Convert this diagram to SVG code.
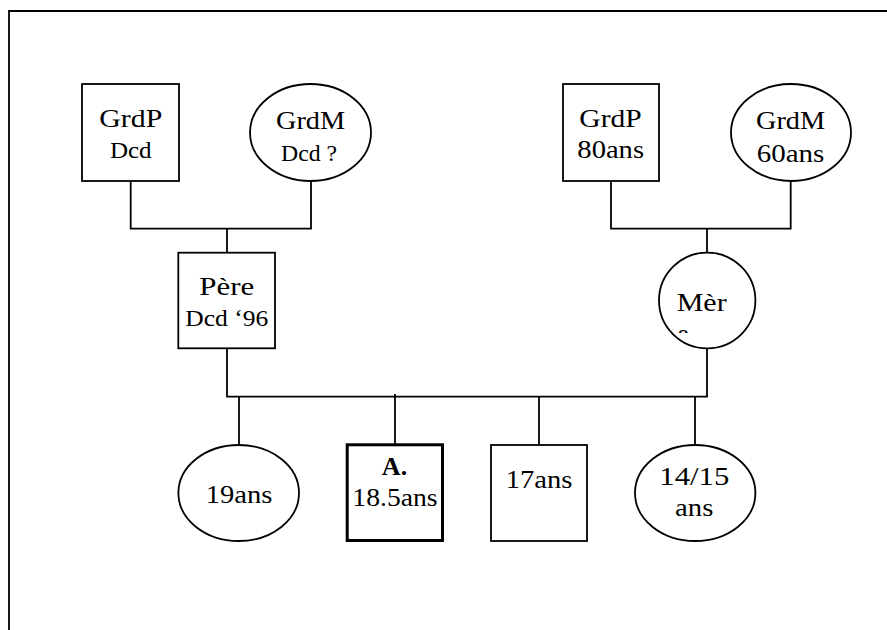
<svg xmlns="http://www.w3.org/2000/svg" width="887" height="630" viewBox="0 0 887 630">
<style>
.shape{fill:#fff;stroke:#000;stroke-width:1.8}
.thick{fill:#fff;stroke:#000;stroke-width:3}
.conn{fill:none;stroke:#000;stroke-width:1.8}
.frame{fill:none;stroke:#000;stroke-width:1.8}
text{font-family:"Liberation Serif","Times New Roman",serif;fill:#000;text-anchor:middle}
.m{font-size:26px}
.s{font-size:23px}
.b{font-weight:bold}
</style>
<defs>
<clipPath id="mereClip"><rect x="659" y="253" width="97" height="80"/></clipPath>
</defs>
<rect width="887" height="630" fill="#fff"/>
<g id="frame">
<path class="frame" d="M9 630 V11 H887"/>
</g>
<g id="connectors">
<polyline class="conn" points="130.7,181 130.7,228.7 311,228.7 311,181"/>
<line class="conn" x1="227" y1="228.7" x2="227" y2="253"/>
<polyline class="conn" points="611,181 611,228.7 790.7,228.7 790.7,181"/>
<line class="conn" x1="707" y1="228.7" x2="707" y2="253"/>
<polyline class="conn" points="227,349 227,396.7 707,396.7 707,348.3"/>
<line class="conn" x1="239" y1="396.7" x2="239" y2="445"/>
<line class="conn" x1="395" y1="394" x2="395" y2="444"/>
<line class="conn" x1="539" y1="396.7" x2="539" y2="445"/>
<line class="conn" x1="695" y1="396.7" x2="695" y2="445"/>
</g>
<g id="grdp-paternel">
<rect class="shape" x="82" y="84" width="97" height="97"/>
<text class="m" x="130.8" y="127.3" textLength="63" lengthAdjust="spacingAndGlyphs">GrdP</text>
<text class="s" x="130.8" y="157.7" textLength="41.7" lengthAdjust="spacingAndGlyphs">Dcd</text>
</g>
<g id="grdm-paternelle">
<ellipse class="shape" cx="310.5" cy="132.5" rx="60.5" ry="48.5"/>
<text class="m" x="310.5" y="129" textLength="69" lengthAdjust="spacingAndGlyphs">GrdM</text>
<text class="s" x="309" y="160.7" textLength="56" lengthAdjust="spacingAndGlyphs">Dcd ?</text>
</g>
<g id="grdp-maternel">
<rect class="shape" x="563" y="84" width="96" height="97"/>
<text class="m" x="610.5" y="127.3" textLength="62.3" lengthAdjust="spacingAndGlyphs">GrdP</text>
<text class="m" x="610.7" y="158.3" textLength="66.7" lengthAdjust="spacingAndGlyphs">80ans</text>
</g>
<g id="grdm-maternelle">
<ellipse class="shape" cx="791" cy="132.5" rx="60" ry="48.5"/>
<text class="m" x="790.5" y="129" textLength="69" lengthAdjust="spacingAndGlyphs">GrdM</text>
<text class="m" x="790.5" y="161.7" textLength="67.7" lengthAdjust="spacingAndGlyphs">60ans</text>
</g>
<g id="pere">
<rect class="shape" x="178.3" y="252.7" width="96.7" height="95.6"/>
<text class="m" x="226.8" y="295" textLength="55" lengthAdjust="spacingAndGlyphs">Père</text>
<text class="s" x="226.7" y="326" textLength="83" lengthAdjust="spacingAndGlyphs">Dcd ‘96</text>
</g>
<g id="mere">
<ellipse class="shape" cx="707.2" cy="300.5" rx="48.2" ry="47.8"/>
<text class="m" x="701.7" y="310.7" textLength="50" lengthAdjust="spacingAndGlyphs">Mèr</text>
<text class="m" x="683" y="341.7" clip-path="url(#mereClip)">e</text>
</g>
<g id="soeur-19">
<ellipse class="shape" cx="238.7" cy="493" rx="60.3" ry="48"/>
<text class="m" x="239" y="503.3" textLength="66.7" lengthAdjust="spacingAndGlyphs">19ans</text>
</g>
<g id="a-18">
<rect class="thick" x="347.2" y="444.8" width="95.3" height="95.7"/>
<text class="m b" x="394.5" y="475">A.</text>
<text class="m" x="395" y="506" textLength="85.3" lengthAdjust="spacingAndGlyphs">18.5ans</text>
</g>
<g id="frere-17">
<rect class="shape" x="491" y="445" width="96" height="96"/>
<text class="m" x="539" y="488.3" textLength="66.7" lengthAdjust="spacingAndGlyphs">17ans</text>
</g>
<g id="soeur-14">
<ellipse class="shape" cx="695.2" cy="493" rx="60.2" ry="48"/>
<text class="m" x="694.3" y="485" textLength="70" lengthAdjust="spacingAndGlyphs">14/15</text>
<text class="m" x="694.2" y="516" textLength="38.3" lengthAdjust="spacingAndGlyphs">ans</text>
</g>
</svg>
